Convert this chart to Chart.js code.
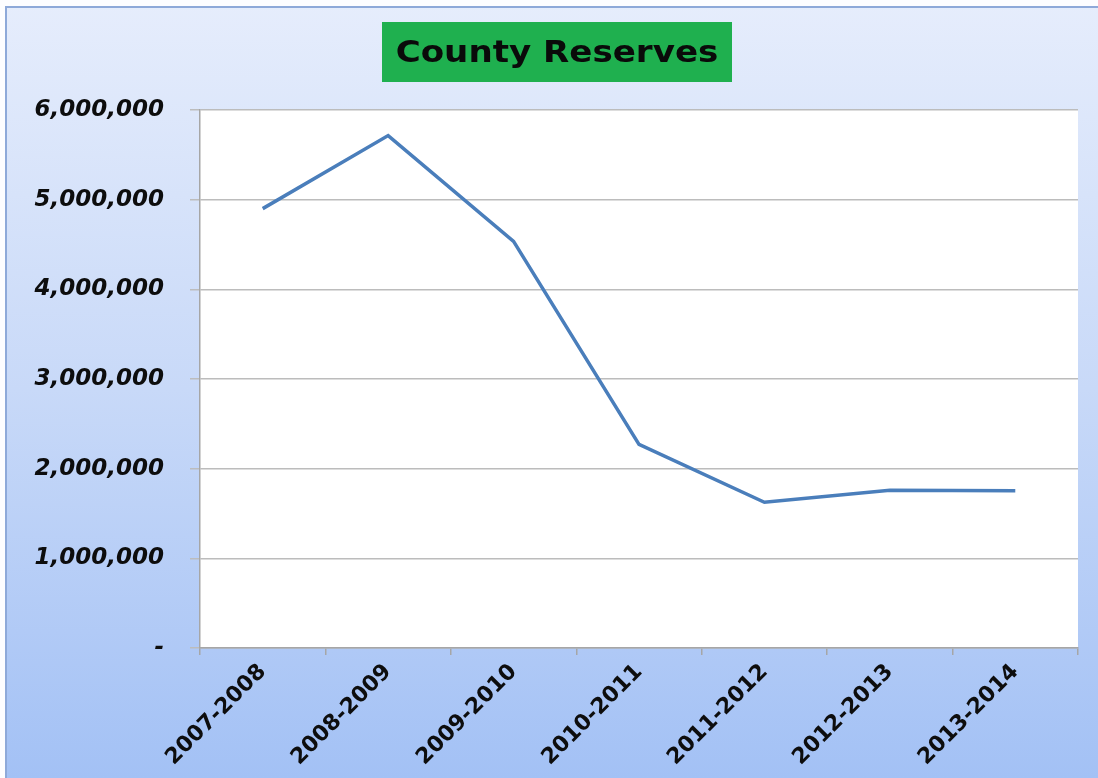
<!DOCTYPE html>
<html>
<head>
<meta charset="utf-8">
<title>County Reserves</title>
<script src="https://cdn.jsdelivr.net/npm/chart.js@4.4.1/dist/chart.umd.min.js"></script>
<style>
  html, body { margin: 0; padding: 0; background: #fff; }
  canvas { display: block; }
</style>
</head>
<body>
<canvas id="reservesChart" width="1098" height="778"></canvas>
<script>
const chartTitle = 'County Reserves';
const fiscalYears = ['2007-2008', '2008-2009', '2009-2010', '2010-2011', '2011-2012', '2012-2013', '2013-2014'];
const reserves = [4900000, 5715000, 4535000, 2270000, 1625000, 1760000, 1755000];
const yTickLabels = ['-', '1,000,000', '2,000,000', '3,000,000', '4,000,000', '5,000,000', '6,000,000'];

// gradient panel, frame, white plot area and the green title box
const backdrop = {
    id: 'backdrop',
    beforeDraw(chart) {
        const { ctx, width, height, chartArea } = chart;
        ctx.save();
        ctx.fillStyle = '#fdfdff';
        ctx.fillRect(0, 0, width, height);

        const grad = ctx.createLinearGradient(0, 0, 0, height);
        grad.addColorStop(0, '#e6edfc');
        grad.addColorStop(0.5, '#c8d9f8');
        grad.addColorStop(1, '#a3c1f5');
        ctx.fillStyle = grad;
        ctx.fillRect(6, 7, width, height);

        ctx.strokeStyle = '#8ea9d9';
        ctx.lineWidth = 2;
        ctx.strokeRect(6, 7, width + 10, height + 10);

        ctx.fillStyle = '#ffffff';
        ctx.fillRect(chartArea.left, chartArea.top, chartArea.width, chartArea.height);

        // title
        const cx = 557;
        ctx.fillStyle = '#1fb04f';
        ctx.fillRect(cx - 175, 22, 350, 60);
        ctx.translate(cx, 62);
        ctx.scale(1.1, 1);
        ctx.font = 'bold 31px "DejaVu Sans"';
        ctx.textAlign = 'center';
        ctx.textBaseline = 'alphabetic';
        ctx.fillStyle = '#0a0a0a';
        ctx.fillText(chartTitle, 0, 0);
        ctx.restore();
    }
};

new Chart(document.getElementById('reservesChart'), {
    type: 'line',
    data: {
        labels: fiscalYears,
        datasets: [{
            label: chartTitle,
            data: reserves,
            borderColor: '#4a7ebb',
            borderWidth: 3.5,
            pointRadius: 0,
            tension: 0,
            fill: false
        }]
    },
    options: {
        responsive: false,
        animation: false,
        layout: { padding: { top: 110, right: 20, left: 0, bottom: 0 } },
        plugins: {
            legend: { display: false },
            tooltip: { enabled: false }
        },
        scales: {
            x: {
                offset: true,
                grid: {
                    offset: true,
                    drawOnChartArea: false,
                    tickLength: 7,
                    color: '#a6a6a6',
                    lineWidth: 1.5
                },
                border: { color: '#a6a6a6', width: 1.5 },
                ticks: {
                    minRotation: 45,
                    maxRotation: 45,
                    padding: 4,
                    color: '#0d0d0d',
                    font: { family: 'DejaVu Sans', weight: 'bold', size: 22 }
                },
                afterFit: (scale) => { scale.height = 130; }
            },
            y: {
                min: 0,
                max: 6000000,
                ticks: {
                    stepSize: 1000000,
                    padding: 26,
                    color: '#0d0d0d',
                    font: { family: 'DejaVu Sans', weight: 'bold', style: 'italic', size: 23 },
                    callback: (value, index) => yTickLabels[index]
                },
                grid: {
                    color: '#bcbcbc',
                    lineWidth: 1.5,
                    tickLength: 10
                },
                border: { color: '#a6a6a6', width: 1.5 },
                afterFit: (scale) => { scale.width = 200; }
            }
        }
    },
    plugins: [backdrop]
});
</script>
</body>
</html>
